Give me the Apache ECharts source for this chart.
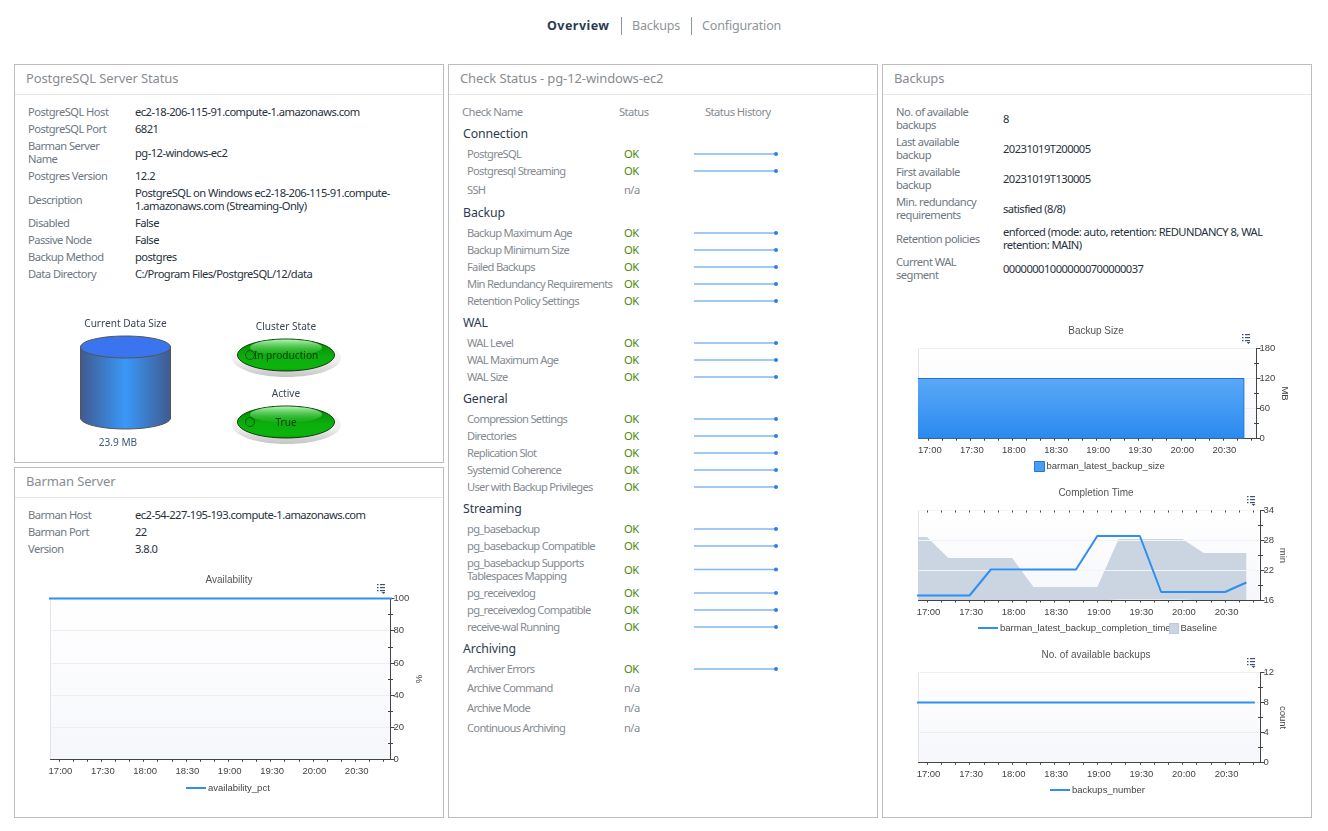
<!DOCTYPE html>
<html>
<head>
<meta charset="utf-8" />
<title>Overview</title>
<script src="https://cdn.jsdelivr.net/npm/echarts@6/dist/echarts.min.js"></script>
<style type="text/css">
* {margin:0; padding:0; box-sizing:border-box;}
html, body {width:1328px; height:831px; overflow:hidden; background:#fff;}
body {font-family:"Noto Sans", sans-serif; font-size:11.2px; letter-spacing:-0.55px; color:#27313d; position:relative;}
#charts {position:absolute; left:0; top:0; width:1328px; height:831px; z-index:5; letter-spacing:0;}
.nav {position:absolute; top:17px; height:18px; line-height:18px; font-size:12.5px; color:#8f9499; letter-spacing:-0.15px;}
.nav.on {font-weight:bold; color:#2c3a52; letter-spacing:0.45px;}
.sep {position:absolute; top:17px; height:18px; width:1px; background:#8f9499;}
.panel {position:absolute; border:1px solid #bdbdbd; background:#fff;}
.panel h2 {font-weight:normal; font-size:13px; letter-spacing:-0.12px; color:#878c92; height:30px; line-height:26px; padding-left:11px; border-bottom:1px solid #e6e6e6;}
.info {position:absolute; left:0; right:0;}
.info .row {position:absolute; left:13px; right:8px; display:flex; align-items:center; line-height:13px;}
.info .k {width:107px; flex:none; padding-right:12px; color:#6e7882;}
.info .v {flex:1;}
#checks {position:absolute; left:0; right:0; top:38px;}
#checks .r {display:flex; align-items:center; line-height:13px; height:17px;}
#checks .r.na {height:20px;}
#checks .r.two {height:30px;}
#checks .g {height:25px; line-height:27px; padding-left:14px; font-size:12.3px; letter-spacing:-0.1px; color:#2c3a4e;}
#checks .n {width:175px; padding-left:18px; flex:none; color:#858b91; letter-spacing:-0.72px;}
#checks .s {width:60px; flex:none; color:#858b91;}
#checks .s.ok {color:#4a8a10;}
#checks .sp {width:90px; height:8px; flex:none; margin-left:10px;}
#checks .hd {color:#858b91;}
#checks .hd .n {padding-left:13px; letter-spacing:-0.55px;}
#checks .hd .s {margin-left:-5px; width:86px;}
</style>
</head>
<body>
<div class="nav on" style="left:547px">Overview</div>
<div class="sep" style="left:621px"></div>
<div class="nav" style="left:632px">Backups</div>
<div class="sep" style="left:691px"></div>
<div class="nav" style="left:702px">Configuration</div>

<div class="panel" style="left:14px;top:64px;width:430px;height:399px"><h2>PostgreSQL Server Status</h2><div class="info" id="pgInfo"></div></div>
<div class="panel" style="left:14px;top:467px;width:430px;height:351px"><h2>Barman Server</h2><div class="info" id="barmanInfo"></div></div>
<div class="panel" style="left:448px;top:64px;width:430px;height:754px"><h2>Check Status - pg-12-windows-ec2</h2><div id="checks"></div></div>
<div class="panel" style="left:882px;top:64px;width:430px;height:754px"><h2>Backups</h2><div class="info" id="backupInfo"></div></div>

<div id="charts"></div>

<script>
// server info tables
var pgLabels = ['PostgreSQL Host','PostgreSQL Port','Barman Server Name','Postgres Version','Description','Disabled','Passive Node','Backup Method','Data Directory'];
var pgValues = ['ec2-18-206-115-91.compute-1.amazonaws.com','6821','pg-12-windows-ec2','12.2','PostgreSQL on Windows ec2-18-206-115-91.compute-1.amazonaws.com (Streaming-Only)','False','False','postgres','C:/Program Files/PostgreSQL/12/data'];
var barmanLabels = ['Barman Host','Barman Port','Version'];
var barmanValues = ['ec2-54-227-195-193.compute-1.amazonaws.com','22','3.8.0'];
var backupLabels = ['No. of available backups','Last available backup','First available backup','Min. redundancy requirements','Retention policies','Current WAL segment'];
var backupValues = ['8','20231019T200005','20231019T130005','satisfied (8/8)','enforced (mode: auto, retention: REDUNDANCY 8, WAL retention: MAIN)','000000010000000700000037'];

// check status groups
var groupNames = ['Connection','Backup','WAL','General','Streaming','Archiving'];
var groupChecks = [
	['PostgreSQL','Postgresql Streaming','SSH'],
	['Backup Maximum Age','Backup Minimum Size','Failed Backups','Min Redundancy Requirements','Retention Policy Settings'],
	['WAL Level','WAL Maximum Age','WAL Size'],
	['Compression Settings','Directories','Replication Slot','Systemid Coherence','User with Backup Privileges'],
	['pg_basebackup','pg_basebackup Compatible','pg_basebackup Supports Tablespaces Mapping','pg_receivexlog','pg_receivexlog Compatible','receive-wal Running'],
	['Archiver Errors','Archive Command','Archive Mode','Continuous Archiving']
];
var groupStatus = [
	['OK','OK','n/a'],
	['OK','OK','OK','OK','OK'],
	['OK','OK','OK'],
	['OK','OK','OK','OK','OK'],
	['OK','OK','OK','OK','OK','OK'],
	['OK','n/a','n/a','n/a']
];
var okHistory = [1,1,1,1,1,1,1,1,1,1,1,1,1,1,1,1];

// chart series, time in HH:MM
var axisTickTimes = ['17:00','17:10','17:20','17:30','17:40','17:50','18:00','18:10','18:20','18:30','18:40','18:50','19:00','19:10','19:20','19:30','19:40','19:50','20:00','20:10','20:20','20:30','20:40','20:50'];
var axisLabelTimes = ['17:00','17:30','18:00','18:30','19:00','19:30','20:00','20:30'];
var availabilityTimes = ['16:45','21:00'];
var availabilityValues = [100,100];
var sizeTimes = ['16:45','20:45','20:45'];
var sizeValues = [120,120,0];
var completionTimes = ['16:45','17:00','17:15','17:30','17:45','18:00','18:15','18:30','18:45','19:00','19:15','19:30','19:45','20:00','20:15','20:30','20:45'];
var completionValues = [17,17,17,17,22.2,22.2,22.2,22.2,22.2,28.9,28.9,28.9,17.7,17.7,17.7,17.7,19.6];
var baselineLow = [16,16,16,16,16,16,16,16,16,16,16.2,16.2,16.2,16.2,16,16,16];
var baselineHigh = [28.7,28.7,24.5,24.5,24.5,24.5,18.7,18.7,18.7,18.7,28.3,28.3,28.3,28.3,25.5,25.5,25.5];
var baselineEndTimes = ['20:45','20:45'];
var baselineEndValues = [25.5,16];
var numberTimes = ['16:45','20:51'];
var numberValues = [8,8];

var FONT = '"Liberation Sans", sans-serif';
var LINE_ICON = 'path://M0 0H20V2H0Z';
var BLUE = '#2d8ff3';

function toMin(t) { var p = t.split(':'); return p[0]*60 + (+p[1]); }
function pairs(times, vals) { return times.map(function(t,i){ return [toMin(t), vals[i]]; }); }
function fmtMin(v) { var m = v%60; return Math.floor(v/60) + ':' + (m<10?'0':'') + m; }

function fillInfo(id, top, labels, values, tall) {
	var box = document.getElementById(id), y = top, html = '';
	labels.forEach(function(l, i) {
		var h = tall || (l.length >= 18 || values[i].length > 55 ? 30 : 17);
		html += '<div class="row" style="top:'+y+'px;height:'+h+'px"><div class="k">'+l+'</div><div class="v">'+values[i]+'</div></div>';
		y += h;
	});
	box.innerHTML = html;
}
fillInfo('pgInfo', 8, pgLabels, pgValues);
fillInfo('barmanInfo', 8, barmanLabels, barmanValues);
fillInfo('backupInfo', 8, backupLabels, backupValues, 30);

// check table
var html = '<div class="r hd"><div class="n">Check Name</div><div class="s">Status</div><div>Status History</div></div>';
groupNames.forEach(function(g, gi) {
	html += '<div class="g">'+g+'</div>';
	groupChecks[gi].forEach(function(c, ci) {
		var st = groupStatus[gi][ci], ok = st == 'OK';
		var two = c.length > 30;
		html += '<div class="r'+(ok?'':' na')+(two?' two':'')+'"><div class="n">'+c+'</div>'
			+ '<div class="s'+(ok?' ok':'')+'">'+st+'</div>'+(ok?'<div class="sp"></div>':'')+'</div>';
	});
});
document.getElementById('checks').innerHTML = html;

var gridList = [], xList = [], yList = [], seriesList = [], titleList = [], legendList = [], graphics = [];

function addLegend(left, top, data, width) {
	legendList.push({
		left:left, top:top, data:data, itemWidth:width, itemHeight:10,
		selectedMode:false, padding:0, itemStyle:{borderWidth:0},
		textStyle:{color:'#444', fontSize:9.5, fontFamily:FONT, padding:[0,0,0,-3]}
	});
}

function addChart(o) {
	var idx = gridList.length, xi = xList.length, yi = yList.length;
	var xmin = o.xmin || 1014, xmax = xmin + 241;
	var ticks = axisTickTimes.map(toMin);
	gridList.push({
		left:o.left, top:o.top, width:o.right-o.left, height:o.bottom-o.top,
		show:true, borderWidth:1, borderColor:'#e2e4ec',
		backgroundColor:new echarts.graphic.LinearGradient(0,0,0,1,[{offset:0,color:'#ffffff'},{offset:1,color:'#f6f7fb'}])
	});
	xList.push({
		type:'value', gridIndex:idx, min:xmin, max:xmax, z:o.axisZ||0,
		axisLine:{onZero:false, lineStyle:{color:'#444', width:1}},
		axisTick:{show:true, length:2, lineStyle:{color:'#444'}, customValues:ticks},
		axisLabel:{color:'#444', fontSize:9.5, fontFamily:FONT, margin:7, padding:[0,0,0,3], customValues:axisLabelTimes.map(toMin), formatter:fmtMin},
		splitLine:{show:false}
	});
	// second pair of axes only draws the inner half of the crossing ticks
	xList.push({
		type:'value', gridIndex:idx, min:xmin, max:xmax, z:4,
		axisLine:{show:false}, axisLabel:{show:false}, splitLine:{show:false},
		axisTick:{show:true, inside:true, length:2, lineStyle:{color:'#444'}, customValues:ticks}
	});
	yList.push({
		type:'value', gridIndex:idx, position:'right', min:o.ymin, max:o.ymax, interval:o.step, z:o.axisZ||0,
		name:o.unit, nameLocation:'middle', nameRotate:-90, nameGap:o.nameGap,
		nameTextStyle:{color:'#444', fontSize:9.5, fontFamily:FONT},
		axisLine:{show:true, lineStyle:{color:'#444', width:1}},
		axisTick:{show:true, length:4, lineStyle:{color:'#444'}},
		minorTick:{show:true, splitNumber:2, length:2.5, lineStyle:{color:'#444'}},
		axisLabel:{color:'#444', fontSize:9.5, fontFamily:FONT, margin:3},
		splitLine:{show:true, lineStyle:{color:o.splitColor||'#eceef5', width:1}}
	});
	yList.push({
		type:'value', gridIndex:idx, position:'right', min:o.ymin, max:o.ymax, interval:o.step, z:4,
		axisLine:{show:false}, axisLabel:{show:false}, splitLine:{show:false},
		axisTick:{show:false, inside:true},
		minorTick:{show:true, splitNumber:2, length:2.5, lineStyle:{color:'#444'}}
	});
	titleList.push({
		text:o.title, left:o.titleX, top:o.titleY, textAlign:'center', padding:0,
		textStyle:{color:'#555', fontSize:10, fontWeight:'normal', fontFamily:FONT}
	});
	o.series.forEach(function(s) {
		s.xAxisIndex = xi; s.yAxisIndex = yi;
		seriesList.push(s);
	});
	menuIcon(o.menuX, o.menuY);
}

function lineSeries(name, data) {
	return {name:name, type:'line', data:data, symbol:'none', clip:false, z:5, lineStyle:{color:BLUE, width:2}, itemStyle:{color:BLUE}};
}

// little chart options icon
function menuIcon(x, y) {
	[0,3,6].forEach(function(d) {
		graphics.push({type:'rect', shape:{x:x-4,y:y-5+d,width:1.5,height:1.2}, style:{fill:'#3e5372'}, silent:true});
		graphics.push({type:'rect', shape:{x:x-1,y:y-5+d,width:5,height:1.2}, style:{fill:'#3e5372'}, silent:true});
	});
	graphics.push({type:'polygon', shape:{points:[[x+0.5,y+3],[x+4.5,y+3],[x+2.5,y+5]]}, style:{fill:'#3e5372'}, silent:true});
}

addChart({
	title:'Availability', titleX:229, titleY:575, left:50.5, right:390.5, top:598.5, bottom:759.5,
	ymin:0, ymax:100, step:20, unit:'%', nameGap:21, menuX:381, menuY:589,
	series:[lineSeries('availability_pct', pairs(availabilityTimes, availabilityValues))]
});
addLegend(186, 783, [{name:'availability_pct', icon:LINE_ICON, itemStyle:{color:BLUE}}], 20);

addChart({
	title:'Backup Size', titleX:1096, titleY:326.5, left:918.5, right:1256.5, top:348.5, bottom:438.5, xmin:1013,
	ymin:0, ymax:180, step:60, unit:'MB', nameGap:19, menuX:1246, menuY:339,
	series:[{
		name:'barman_latest_backup_size', type:'line', data:pairs(sizeTimes, sizeValues), symbol:'none', z:4,
		lineStyle:{color:'#1f72d0', width:1}, itemStyle:{color:'#4b9df3'},
		areaStyle:{opacity:1, color:new echarts.graphic.LinearGradient(0,0,0,1,[{offset:0,color:'#5aa8f6'},{offset:1,color:'#2a8af0'}])}
	}]
});
addLegend(1034, 461, [{name:'barman_latest_backup_size', icon:'rect', itemStyle:{color:'#4b9df3', borderColor:'#1f78dc', borderWidth:1}}], 10);

addChart({
	title:'Completion Time', titleX:1096, titleY:488.5, left:918.5, right:1260.5, top:510.5, bottom:600.5, axisZ:3, splitColor:'#f2f4f8',
	ymin:16, ymax:34, step:6, unit:'min', nameGap:14, menuX:1251, menuY:501,
	series:[
		{name:'Baseline', type:'line', data:pairs(completionTimes, baselineHigh).concat(pairs(baselineEndTimes, baselineEndValues)), symbol:'none', lineStyle:{width:0}, itemStyle:{color:'#cbd5e2'}, areaStyle:{opacity:1, color:'#cbd5e2'}, z:2},
		{name:'Baseline low', type:'line', data:pairs(completionTimes, baselineLow), symbol:'none', lineStyle:{width:0}, areaStyle:{opacity:1, color:'#fafbfd'}, z:2},
		lineSeries('barman_latest_backup_completion_time', pairs(completionTimes, completionValues))
	]
});
addLegend(978, 623, [{name:'barman_latest_backup_completion_time', icon:LINE_ICON, itemStyle:{color:BLUE}}], 20);
addLegend(1169, 623, [{name:'Baseline', icon:'rect', itemStyle:{color:'#cbd5e2', borderColor:'#bcc8d8', borderWidth:1}}], 9);

addChart({
	title:'No. of available backups', titleX:1096, titleY:650.5, left:918.5, right:1260.5, top:672.5, bottom:762.5,
	ymin:0, ymax:12, step:4, unit:'count', nameGap:14, menuX:1251, menuY:663,
	series:[lineSeries('backups_number', pairs(numberTimes, numberValues))]
});
addLegend(1050, 785, [{name:'backups_number', icon:LINE_ICON, itemStyle:{color:BLUE}}], 20);

// status history sparklines sit in the table cells
var cells = document.querySelectorAll('#checks .sp');
Array.prototype.forEach.call(cells, function(cell) {
	var r = cell.getBoundingClientRect(), idx = gridList.length, xi = xList.length, yi = yList.length, n = okHistory.length;
	gridList.push({left:694, top:r.top + 0.5, width:82, height:r.height});
	xList.push({type:'category', show:false, gridIndex:idx, boundaryGap:false, data:okHistory.map(function(v,i){return i;})});
	yList.push({type:'value', show:false, gridIndex:idx, min:0, max:2});
	seriesList.push({
		type:'line', xAxisIndex:xi, yAxisIndex:yi, showAllSymbol:true, silent:true,
		lineStyle:{color:'#7db9f7', width:1.6}, itemStyle:{color:'#2d7fe0'},
		data:okHistory.map(function(v,i){ return i==n-1 ? {value:v, symbol:'circle', symbolSize:4} : {value:v, symbol:'none'}; })
	});
});

// data size cylinder
var bodyFill = new echarts.graphic.LinearGradient(0,0,1,0,[
	{offset:0,color:'#405a90'},{offset:0.5,color:'#3a98f8'},{offset:1,color:'#405a90'}]);
graphics.push({type:'ellipse', shape:{cx:125.5,cy:418,rx:45,ry:11}, style:{fill:bodyFill, stroke:'#555', lineWidth:1}, silent:true});
graphics.push({type:'rect', shape:{x:80.5,y:347,width:90,height:71}, style:{fill:bodyFill}, silent:true});
graphics.push({type:'line', shape:{x1:80.5,y1:347,x2:80.5,y2:418}, style:{stroke:'#555'}, silent:true});
graphics.push({type:'line', shape:{x1:170.5,y1:347,x2:170.5,y2:418}, style:{stroke:'#555'}, silent:true});
graphics.push({type:'ellipse', shape:{cx:125.5,cy:347,rx:45,ry:11}, style:{fill:'#3a74ee', stroke:'#555', lineWidth:1}, silent:true});

function label(text, x, y, color) {
	graphics.push({type:'text', x:x, y:y, silent:true, style:{text:text, fill:color||'#3a4654', font:'10.1px "Noto Sans", sans-serif', align:'center', verticalAlign:'middle'}});
}
label('Current Data Size', 125.5, 324);
label('23.9 MB', 118, 443, '#3f5a78');
label('Cluster State', 286, 327);
label('Active', 286, 394);

// state lamps
function lamp(cy, text) {
	var cx = 286;
	graphics.push({type:'ellipse', shape:{cx:cx+0.5,cy:cy+3,rx:54.5,ry:19}, style:{fill:new echarts.graphic.LinearGradient(0,0,0,1,[{offset:0,color:'#ffffff'},{offset:0.6,color:'#eeeeee'},{offset:1,color:'#c4c4c4'}])}, silent:true});
	graphics.push({type:'ellipse', shape:{cx:cx,cy:cy,rx:48.5,ry:16}, style:{stroke:'#0c3d0c', lineWidth:1, fill:new echarts.graphic.LinearGradient(0,0,0,1,[{offset:0,color:'#067f06'},{offset:0.55,color:'#0cae0c'},{offset:0.9,color:'#0cb40c'},{offset:1,color:'#079007'}])}, silent:true});
	graphics.push({type:'ellipse', shape:{cx:cx,cy:cy-7.5,rx:36,ry:8}, style:{fill:new echarts.graphic.LinearGradient(0,0,0,1,[{offset:0,color:'rgba(190,250,190,0.95)'},{offset:1,color:'rgba(60,210,60,0.15)'}])}, silent:true});
	graphics.push({type:'circle', shape:{cx:cx-36,cy:cy,r:4.5}, style:{fill:'none', stroke:'#0a5a0a', lineWidth:1}, silent:true});
	label(text, cx, cy+1, '#0b3a0b');
}
lamp(355, 'In production');
lamp(422, 'True');

var chart = echarts.init(document.getElementById('charts'));
chart.setOption({
	animation:false,
	title:titleList,
	legend:legendList,
	grid:gridList,
	xAxis:xList,
	yAxis:yList,
	series:seriesList,
	graphic:graphics
});
</script>
</body>
</html>
